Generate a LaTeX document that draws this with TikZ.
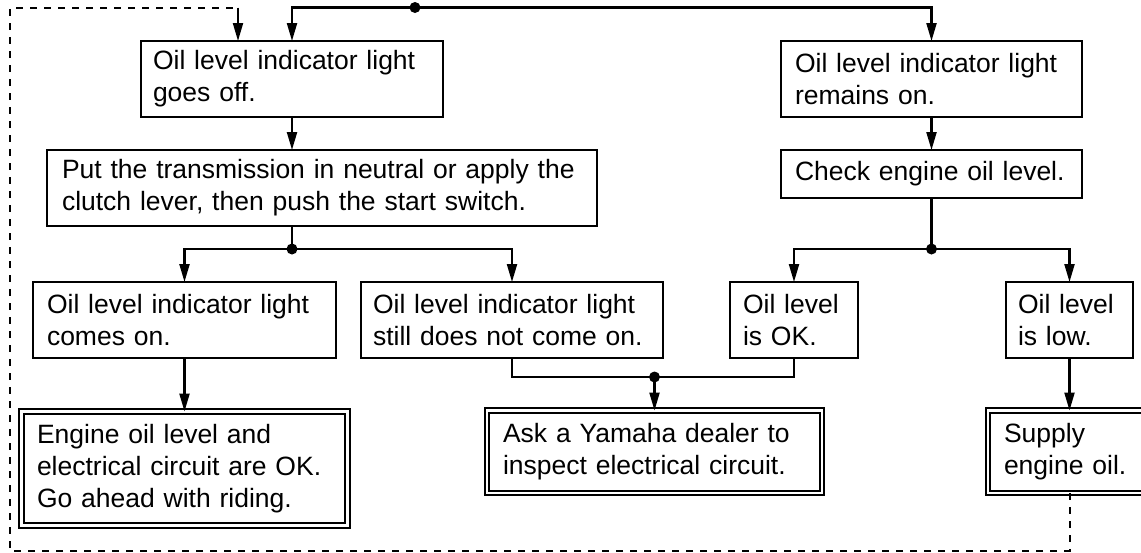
\documentclass[tikz,border=0pt]{standalone}
\usepackage{fontspec}
\newfontfamily\boxfontfam{Liberation Sans}
\usetikzlibrary{arrows.meta}
\newcommand{\boxfont}{\boxfontfam\fontsize{26.5pt}{32pt}\selectfont}
\begin{document}
\begin{tikzpicture}[x=1pt,y=-1pt,
  box/.style={draw, line width=2.2pt, anchor=north west, inner ysep=0pt, outer sep=0pt, align=left, font=\boxfont},
  dbox/.style={box, double, line width=2pt, double distance=2.2pt},
  conn/.style={line width=2.2pt},
  arr/.style={conn, -{Triangle[length=18pt,width=10pt]}},
  dsh/.style={line width=2pt, dash pattern=on 7pt off 7pt},
  junction/.style={circle, fill, inner sep=0pt, minimum size=11pt}]
\clip (0,0) rectangle (1141,552);
% boxes
\node[box, text width=278pt, inner xsep=12pt, minimum height=76pt] (A) at (141,41) {Oil level indicator light\\goes off.};
\node[box, text width=273pt, inner xsep=14pt, minimum height=76pt] (B) at (781,41) {Oil level indicator light\\remains on.};
\node[box, text width=520pt, inner xsep=15pt, minimum height=76pt] (C) at (47,150) {Put the transmission in neutral or apply the\\clutch lever, then push the start switch.};
\node[box, text width=273pt, inner xsep=14pt, minimum height=48pt] (D) at (781,150) {Check engine oil level.};
\node[box, text width=275pt, inner xsep=14pt, minimum height=76pt] (E) at (33,282) {Oil level indicator light\\comes on.};
\node[box, text width=278pt, inner xsep=12pt, minimum height=76pt] (F) at (361,282) {Oil level indicator light\\still does not come on.};
\node[box, text width=102pt, inner xsep=13pt, minimum height=76pt] (G) at (730,282) {Oil level\\is OK.};
\node[box, text width=103pt, inner xsep=12pt, minimum height=76pt] (H) at (1006,282) {Oil level\\is low.};
\node[dbox, text width=303pt, inner xsep=16pt, minimum height=82.5pt] (I) at (487,410.5) {Ask a Yamaha dealer to\\inspect electrical circuit.};
\node[dbox, text width=295pt, inner xsep=15.5pt, minimum height=114pt] (J) at (21.5,411.5) {Engine oil level and\\electrical circuit are OK.\\Go ahead with riding.};
\node[dbox, text width=140pt, inner xsep=16pt, minimum height=82.5pt] (K) at (988,410.5) {Supply\\engine oil.};
% junctions
\node[junction] (t0) at (415,7.5) {};
\node[junction] (j1) at (292,249) {};
\node[junction] (j2) at (931.5,249) {};
\node[junction] (j3) at (654.5,377) {};
\coordinate (lc) at (10,550.5);
\coordinate (tc) at (238,7.5);
% connectors
\draw[arr] (t0.center) -| (A.north);
\draw[arr] (t0.center) -| (B.north);
\draw[arr] (A.south) -- (A.south |- C.north);
\draw[arr] (B.south) -- (D.north);
\draw[conn] (C.south -| j1) -- (j1.center);
\draw[arr] (j1.center) -| (E.north);
\draw[arr] (j1.center) -| (F.north);
\draw[conn] (D.south) -- (j2.center);
\draw[arr] (j2.center) -| (G.north);
\draw[arr] (j2.center) -| (H.north);
\draw[conn] (F.south) |- (j3.center);
\draw[conn] (G.south) |- (j3.center);
\draw[arr] (j3.center) -- (I.north);
\draw[arr] (E.south) -- (J.north);
\draw[arr] (H.south) -- (H.south |- K.north);
\draw[dsh] (K.south -| H.south) |- (lc) |- (tc);
\draw[arr, line width=2pt] (tc) -- (tc |- A.north);
\end{tikzpicture}
\end{document}
